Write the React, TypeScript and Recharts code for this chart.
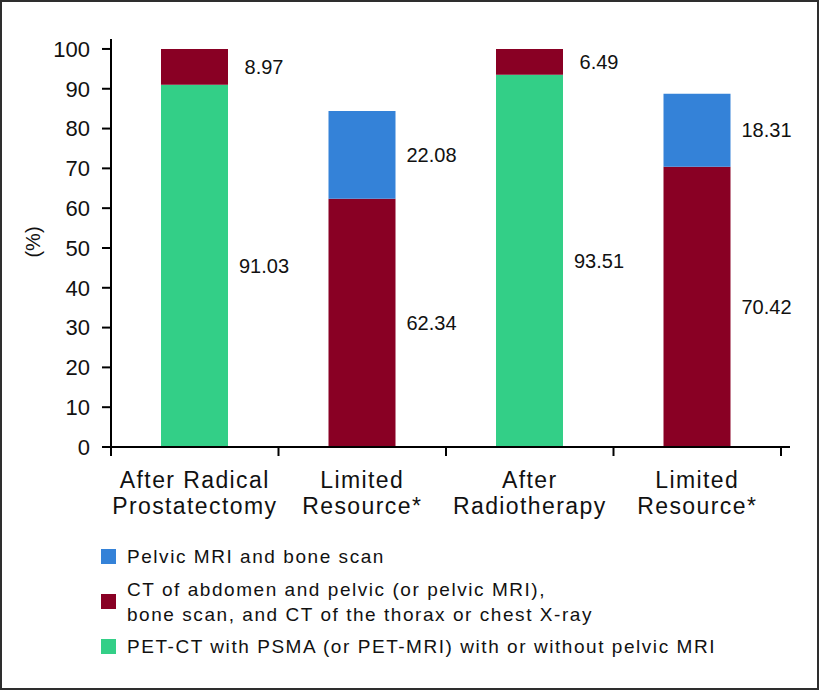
import React from "react"
import { BarChart, Bar, XAxis, YAxis, LabelList, Label } from "recharts"

const categories = [
  ["After Radical", "Prostatectomy"],
  ["Limited", "Resource*"],
  ["After", "Radiotherapy"],
  ["Limited", "Resource*"],
]
const petValues = [91.03, null, 93.51, null]
const ctValues = [8.97, 62.34, 6.49, 70.42]
const mriValues = [null, 22.08, null, 18.31]
const yTicks = [0, 10, 20, 30, 40, 50, 60, 70, 80, 90, 100]

const legendItems = [
  { color: "#3482D8", lines: ["Pelvic MRI and bone scan"] },
  {
    color: "#890024",
    lines: ["CT of abdomen and pelvic (or pelvic MRI),", "bone scan, and CT of the thorax or chest X-ray"],
  },
  { color: "#33CF87", lines: ["PET-CT with PSMA (or PET-MRI) with or without pelvic MRI"] },
]

const data = categories.map((c, i) => ({
  key: String(i),
  lines: c,
  pet: petValues[i],
  ct: ctValues[i],
  mri: mriValues[i],
}))

const FONT = "'Liberation Sans', Arial, Helvetica, sans-serif"
const PLOT_LEFT = 111
const PLOT_RIGHT = 781
const HALF_BAND = (PLOT_RIGHT - PLOT_LEFT) / categories.length / 2

function CategoryTick({ x, y, index }: any) {
  const lines = categories[index] || []
  const isLast = index === categories.length - 1
  return (
    <g>
      <line x1={x - HALF_BAND} x2={x - HALF_BAND} y1={y} y2={y + 9} stroke="#000" strokeWidth={2} />
      {isLast && (
        <line x1={x + HALF_BAND} x2={x + HALF_BAND} y1={y} y2={y + 9} stroke="#000" strokeWidth={2} />
      )}
      <text
        x={x}
        y={y + 41}
        textAnchor="middle"
        fontSize={23}
        letterSpacing={1.4}
        fill="#111"
        fontFamily={FONT}
      >
        {lines.map((l: string, i: number) => (
          <tspan key={i} x={x} dy={i === 0 ? 0 : 26}>
            {l}
          </tspan>
        ))}
      </text>
    </g>
  )
}

function ValueLabel({ x, y, width, height, value }: any) {
  if (value == null) return null
  return (
    <text
      x={Number(x) + Number(width) + 36}
      y={Number(y) + Number(height) / 2}
      textAnchor="middle"
      dominantBaseline="central"
      fontSize={20}
      fill="#111"
      fontFamily={FONT}
    >
      {Number(value).toFixed(2)}
    </text>
  )
}

export default function App() {
  return (
    <div
      style={{
        position: "absolute",
        left: 0,
        top: 0,
        width: 819,
        height: 690,
        background: "#fff",
        boxShadow: "inset 0 0 0 2px #2e2e2e",
        fontFamily: FONT,
      }}
    >
      <BarChart
        width={819}
        height={560}
        data={data}
        margin={{ top: 39, right: 29, left: 0, bottom: 23 }}
        barSize={67}
      >
        <XAxis
          dataKey="key"
          tick={<CategoryTick />}
          tickLine={false}
          tickSize={0}
          tickMargin={0}
          interval={0}
          height={90}
          padding={{ left: 0, right: 9 }}
          axisLine={{ stroke: "#000", strokeWidth: 2 }}
        />
        <YAxis
          type="number"
          domain={[0, 102.5]}
          ticks={yTicks}
          width={111}
          tickSize={9}
          tickMargin={12}
          tick={{ fontSize: 22, fill: "#111", fontFamily: FONT }}
          tickLine={{ stroke: "#000", strokeWidth: 2 }}
          axisLine={{ stroke: "#000", strokeWidth: 2 }}
        >
          <Label
            content={({ viewBox }: any) => {
              const cy = viewBox.y + viewBox.height / 2 - 1
              return (
                <text
                  x={33}
                  y={cy}
                  transform={`rotate(-90 33 ${cy})`}
                  textAnchor="middle"
                  dominantBaseline="central"
                  fontSize={20}
                  fill="#111"
                  fontFamily={FONT}
                >
                  (%)
                </text>
              )
            }}
          />
        </YAxis>
        <Bar dataKey="pet" stackId="a" fill="#33CF87" isAnimationActive={false}>
          <LabelList dataKey="pet" content={<ValueLabel />} />
        </Bar>
        <Bar dataKey="ct" stackId="a" fill="#890024" isAnimationActive={false}>
          <LabelList dataKey="ct" content={<ValueLabel />} />
        </Bar>
        <Bar dataKey="mri" stackId="a" fill="#3482D8" isAnimationActive={false}>
          <LabelList dataKey="mri" content={<ValueLabel />} />
        </Bar>
      </BarChart>

      {/* legend */}
      <div style={{ position: "absolute", left: 101, top: 544 }}>
        {legendItems.map((item, i) => (
          <div
            key={i}
            style={{ display: "flex", alignItems: "center", marginBottom: 7.5 }}
          >
            <span
              style={{
                width: 15,
                height: 15,
                background: item.color,
                flexShrink: 0,
                marginRight: 11,
              }}
            />
            <div style={{ fontSize: 19, lineHeight: "25px", letterSpacing: 1.55, color: "#111" }}>
              {item.lines.map((l, j) => (
                <div key={j}>{l}</div>
              ))}
            </div>
          </div>
        ))}
      </div>
    </div>
  )
}
